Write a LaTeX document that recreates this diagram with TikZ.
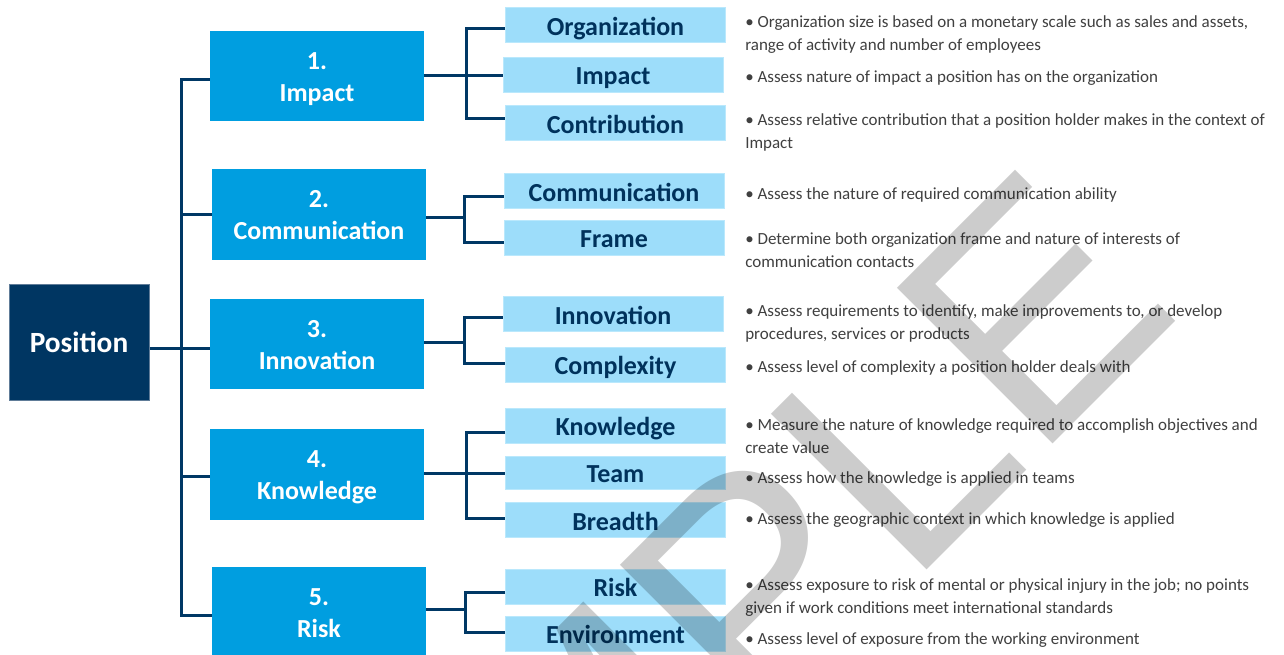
\documentclass[tikz,border=0pt]{standalone}
\usepackage{fontspec}
\setmainfont{Carlito}
\newfontfamily\markfont{Liberation Sans}
\newlength\pxl
\setlength\pxl{0.75pt}
\definecolor{navy}{RGB}{0,56,101}
\definecolor{navytext}{RGB}{0,50,92}
\definecolor{rootblue}{RGB}{0,54,98}
\definecolor{rootedge}{RGB}{96,124,152}
\definecolor{mainblue}{RGB}{0,158,224}
\definecolor{subblue}{RGB}{157,221,250}
\definecolor{subedge}{RGB}{186,232,252}
\definecolor{desctext}{RGB}{64,64,64}
\tikzset{
  rootbox/.style={fill=rootblue, draw=rootedge, line width=0.75pt, text=white,
    font=\fontsize{22}{26}\selectfont\bfseries, minimum width=140\pxl,
    minimum height=116\pxl, inner sep=0, text height=20pt, text depth=4pt},
  mainbox/.style={fill=mainblue, text=white, align=center,
    font=\fontsize{19.5}{24}\selectfont\bfseries, minimum width=214\pxl,
    minimum height=90\pxl, inner sep=0, text height=41.5pt, text depth=4pt},
  subbox/.style={fill=subblue, draw=subedge, line width=0.75pt, text=navytext,
    font=\fontsize{19.5}{24}\selectfont\bfseries, minimum width=220\pxl,
    minimum height=35\pxl, inner sep=0, text height=19pt, text depth=4pt},
  desc/.style={anchor=mid west, inner sep=0, text=desctext, align=left,
    font=\fontsize{12.75}{17.1}\selectfont},
  link/.style={draw=navy, line width=2.25pt},
}
\begin{document}
\begin{tikzpicture}[x=0.75pt, y=-0.75pt]
\useasboundingbox (0,0) rectangle (1284,654);
\fill[white] (0,0) rectangle (1284,654);

% root
\node[rootbox] (pos) at (79,342) {Position};

% first level
\node[mainbox] (m1) at (317,76)    {1.\\Impact};
\node[mainbox, minimum height=91\pxl] (m2) at (319,214.5) {2.\\Communication};
\node[mainbox] (m3) at (317,344)   {3.\\Innovation};
\node[mainbox, minimum height=91\pxl] (m4) at (317,474.5) {4.\\Knowledge};
\node[mainbox] (m5) at (319,612)   {5.\\Risk};

% second level
\node[subbox] (s11) at (615.5,25)  {Organization};
\node[subbox] (s12) at (613,74.5)  {Impact};
\node[subbox] (s13) at (615.5,123) {Contribution};
\node[subbox] (s21) at (614,191)   {Communication};
\node[subbox] (s22) at (614,237.5) {Frame};
\node[subbox] (s31) at (613,314)   {Innovation};
\node[subbox] (s32) at (615.5,364.5) {Complexity};
\node[subbox] (s41) at (615.5,425.5) {Knowledge};
\node[subbox, minimum height=33\pxl] (s42) at (615.5,472.5) {Team};
\node[subbox] (s43) at (615.5,520) {Breadth};
\node[subbox] (s51) at (615.5,586.5) {Risk};
\node[subbox] (s52) at (615.5,633.5) {Environment};

% descriptions (two-line entries are placed by their last line)
\node[desc] (d11) at (745,47) {• Organization size is based on a monetary scale such as sales and assets,\\range of activity and number of employees};
\node[desc] (d12) at (745,79.7) {• Assess nature of impact a position has on the organization};
\node[desc] (d13) at (745,145) {• Assess relative contribution that a position holder makes in the context of\\Impact};
\node[desc] (d21) at (745,196) {• Assess the nature of required communication ability};
\node[desc] (d22) at (745,264) {• Determine both organization frame and nature of interests of\\communication contacts};
\node[desc] (d31) at (745,336) {• Assess requirements to identify, make improvements to, or develop\\procedures, services or products};
\node[desc] (d32) at (745,369) {• Assess level of complexity a position holder deals with};
\node[desc] (d41) at (745,450) {• Measure the nature of knowledge required to accomplish objectives and\\create value};
\node[desc] (d42) at (745,480) {• Assess how the knowledge is applied in teams};
\node[desc] (d43) at (745,521) {• Assess the geographic context in which knowledge is applied};
\node[desc] (d51) at (745,610) {• Assess exposure to risk of mental or physical injury in the job; no points\\given if work conditions meet international standards};
\node[desc] (d52) at (745,641) {• Assess level of exposure from the working environment};

% trunk from the root to the five groups
\coordinate (t1) at (181,79);
\coordinate (t2) at (181,214);
\coordinate (t3) at (181,348);
\coordinate (t4) at (181,476);
\coordinate (t5) at (181,615);
\draw[link] (t1 -| m1.west) -- (t1) -- (t5) -- (t5 -| m5.west);
\draw[link] (t2) -- (t2 -| m2.west);
\draw[link] (t3 -| pos.east) -- (t3 -| m3.west);
\draw[link] (t4) -- (t4 -| m4.west);

% group 1
\coordinate (g1) at (466,75);
\coordinate (g1a) at (466,28);
\coordinate (g1c) at (466,118);
\draw[link] (g1 -| m1.east) -- (g1) -- (g1 -| s12.west);
\draw[link] (g1a -| s11.west) -- (g1a) -- (g1c) -- (g1c -| s13.west);

% group 2
\coordinate (g2) at (464,217);
\coordinate (g2a) at (464,196);
\coordinate (g2b) at (464,242);
\draw[link] (g2 -| m2.east) -- (g2);
\draw[link] (g2a -| s21.west) -- (g2a) -- (g2b) -- (g2b -| s22.west);

% group 3
\coordinate (g3) at (464,342);
\coordinate (g3a) at (464,317);
\coordinate (g3b) at (464,363);
\draw[link] (g3 -| m3.east) -- (g3);
\draw[link] (g3a -| s31.west) -- (g3a) -- (g3b) -- (g3b -| s32.west);

% group 4
\coordinate (g4) at (466,473);
\coordinate (g4a) at (466,432);
\coordinate (g4c) at (466,518);
\draw[link] (g4 -| m4.east) -- (g4) -- (g4 -| s42.west);
\draw[link] (g4a -| s41.west) -- (g4a) -- (g4c) -- (g4c -| s43.west);

% group 5
\coordinate (g5) at (465,609);
\coordinate (g5a) at (465,592);
\coordinate (g5b) at (465,632);
\draw[link] (g5 -| m5.east) -- (g5);
\draw[link] (g5a -| s51.west) -- (g5a) -- (g5b) -- (g5b -| s52.west);

% watermark across the page
\begin{scope}
  \clip (0,0) rectangle (1284,654);
  \node[rotate=45, anchor=base west, inner sep=0, text=black, text opacity=0.2,
        font=\markfont\fontsize{240}{240}\selectfont] (mark) at (267,1230) {SAMPLE};
\end{scope}
\end{tikzpicture}
\end{document}
